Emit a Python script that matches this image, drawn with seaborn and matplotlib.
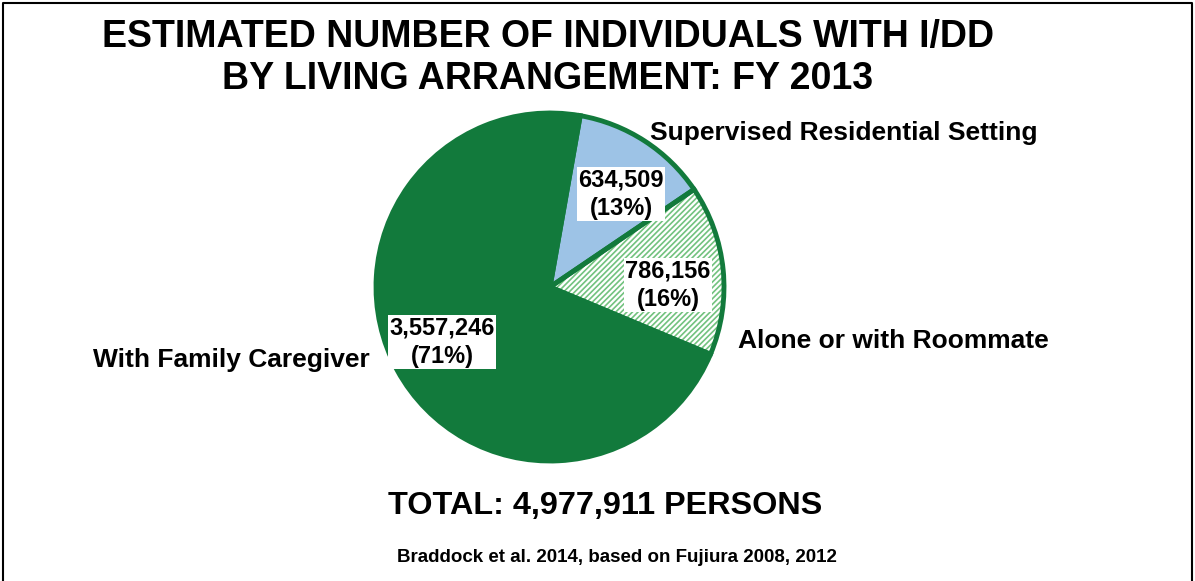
"""Pie of estimated I/DD population by living arrangement, FY 2013."""

import matplotlib
matplotlib.use("Agg")
import matplotlib.pyplot as plt
import seaborn as sns

LABELS = ["Supervised Residential Setting", "Alone or with Roommate", "With Family Caregiver"]
COUNTS = [634509, 786156, 3557246]
PCTS = [13, 16, 71]
TOTAL = 4977911

GREEN = "#127A3C"
BLUE = "#9DC3E6"
HATCH_GREEN = "#72C27E"

sns.set_theme(style="white")
plt.rcParams["font.family"] = ["Liberation Sans", "DejaVu Sans"]
plt.rcParams["text.color"] = "black"
plt.rcParams["hatch.linewidth"] = 1.2

W, H = 1195, 581
fig = plt.figure(figsize=(W / 100, H / 100), dpi=100)
ax = fig.add_axes([0, 0, 1, 1])

# frame around the slide (bottom edge is cut off)
ax.plot([3, 3, W - 3, W - 3], [0, H - 3, H - 3, 0], color="black", lw=1.5)

cx, cy, r = 550, H - 287, 174
colors = [BLUE, "white", GREEN]
wedges, _ = ax.pie(COUNTS, colors=colors, startangle=80, counterclock=False,
                   center=(cx, cy), radius=r, frame=True,
                   wedgeprops=dict(linewidth=0))
wedges[1].set_hatch("//////")
wedges[1].set_edgecolor(HATCH_GREEN)
ax.pie(COUNTS, colors=["none"] * 3, startangle=80, counterclock=False,
       center=(cx, cy), radius=r, frame=True,
       wedgeprops=dict(linewidth=3.5, edgecolor=GREEN, fill=False))
ax.set_xlim(0, W)
ax.set_ylim(0, H)
ax.set_aspect("equal")
ax.axis("off")

box = dict(facecolor="white", edgecolor="none", pad=1.2)
val_pos = [(621, 194), (668, 285), (442, 342)]
for (x, y), n, p in zip(val_pos, COUNTS, PCTS):
    ax.text(x, H - y, f"{n:,}\n({p}%)", ha="center", va="center", fontsize=17,
            fontweight="bold", bbox=box, linespacing=1.3)

name_pos = [(650, 133, "left"), (738, 341, "left"), (370, 360, "right")]
for (x, y, ha), lab in zip(name_pos, LABELS):
    ax.text(x, H - y, lab, ha=ha, va="center", fontsize=19, fontweight="bold")

ax.text(548, H - 58, "ESTIMATED NUMBER OF INDIVIDUALS WITH I/DD\nBY LIVING ARRANGEMENT: FY 2013",
        ha="center", va="center", fontsize=27, fontweight="bold", linespacing=1.18)
ax.text(605, H - 506, f"TOTAL: {TOTAL:,} PERSONS", ha="center", va="center",
        fontsize=23.3, fontweight="bold")
ax.text(617, H - 557, "Braddock et al. 2014, based on Fujiura 2008, 2012",
        ha="center", va="center", fontsize=13.5, fontweight="bold")

fig.savefig("out.png", dpi=100)
